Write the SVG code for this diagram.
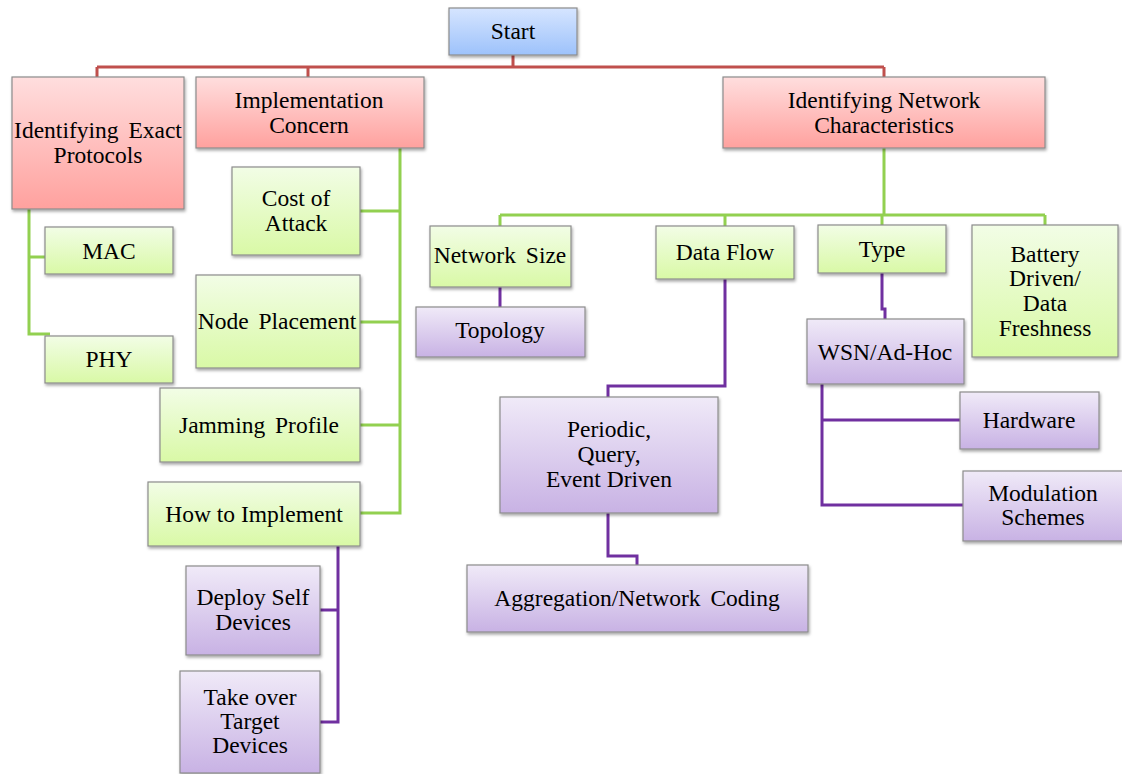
<svg xmlns="http://www.w3.org/2000/svg" width="1122" height="774" viewBox="0 0 1122 774">
  <defs>
    <linearGradient id="gBlue" x1="0" y1="0" x2="0" y2="1">
      <stop offset="0" stop-color="#D6E5FF"/>
      <stop offset="1" stop-color="#9DC2FB"/>
    </linearGradient>
    <linearGradient id="gRed" x1="0" y1="0" x2="0" y2="1">
      <stop offset="0" stop-color="#FFDEDE"/>
      <stop offset="1" stop-color="#FFA19E"/>
    </linearGradient>
    <linearGradient id="gGreen" x1="0" y1="0" x2="0" y2="1">
      <stop offset="0" stop-color="#F2FDE6"/>
      <stop offset="1" stop-color="#D9F9A6"/>
    </linearGradient>
    <linearGradient id="gPurple" x1="0" y1="0" x2="0" y2="1">
      <stop offset="0" stop-color="#F0EAF8"/>
      <stop offset="1" stop-color="#C8B2E4"/>
    </linearGradient>
    <filter id="shadow" x="-10%" y="-10%" width="120%" height="130%">
      <feDropShadow dx="1" dy="2" stdDeviation="1.5" flood-color="#000" flood-opacity="0.35"/>
    </filter>
  </defs>
  <style>
    .box { stroke: #8C8C8C; stroke-width: 1.2; filter: url(#shadow); }
    .blue { fill: url(#gBlue); }
    .red { fill: url(#gRed); }
    .green { fill: url(#gGreen); }
    .purple { fill: url(#gPurple); }
    text { font-family: "Liberation Serif", "Times New Roman", serif; font-size: 23.5px; fill: #000; text-anchor: middle; }
    .wide { word-spacing: 4px; }
    .c-red { fill: none; stroke: #C0504D; stroke-width: 3; }
    .c-green { fill: none; stroke: #92D050; stroke-width: 3; }
    .c-purple { fill: none; stroke: #7030A0; stroke-width: 3; }
  </style>
  <rect width="1122" height="774" fill="#FFFFFF"/>

  <!-- connectors -->
  <g id="connectors">
    <path class="c-red" d="M513 55 V67 M97 67 H884 M97 67 V78 M308 67 V78 M884 67 V78"/>
    <path class="c-green" d="M29 209 V334 H50 M29 257 H45"/>
    <path class="c-green" d="M400 148 V513 H360 M360 211 H400 M360 322 H400 M360 425 H400"/>
    <path class="c-green" d="M884 148 V215 M500 215 H1045 M500 215 V226 M725 215 V226 M882 215 V225 M1045 215 V225"/>
    <path class="c-purple" d="M500 287 V307"/>
    <path class="c-purple" d="M725 279 V386 H608 V397"/>
    <path class="c-purple" d="M608 513 V556 H637 V565"/>
    <path class="c-purple" d="M882 273 V309 H885 V319"/>
    <path class="c-purple" d="M822 384 V505 H963 M822 420 H960"/>
    <path class="c-purple" d="M338 546 V722 H320 M320 610 H338"/>
  </g>

  <!-- root -->
  <g id="start">
    <rect class="box blue" x="449" y="8" width="128" height="47"/>
    <text x="513" y="39">Start</text>
  </g>

  <!-- first level -->
  <g id="identifying-exact-protocols">
    <rect class="box red" x="12" y="77" width="172" height="132"/>
    <text x="98" y="138" class="wide">Identifying Exact</text>
    <text x="98" y="163">Protocols</text>
  </g>
  <g id="implementation-concern">
    <rect class="box red" x="196" y="77" width="228" height="71"/>
    <text x="309" y="108">Implementation</text>
    <text x="309" y="133">Concern</text>
  </g>
  <g id="identifying-network-characteristics">
    <rect class="box red" x="723" y="77" width="322" height="71"/>
    <text x="884" y="108">Identifying Network</text>
    <text x="884" y="133">Characteristics</text>
  </g>

  <!-- protocols branch -->
  <g id="mac">
    <rect class="box green" x="45" y="227" width="128" height="47"/>
    <text x="109" y="259">MAC</text>
  </g>
  <g id="phy">
    <rect class="box green" x="45" y="336" width="128" height="47"/>
    <text x="109" y="367">PHY</text>
  </g>

  <!-- implementation branch -->
  <g id="cost-of-attack">
    <rect class="box green" x="232" y="167" width="128" height="88"/>
    <text x="296" y="206">Cost of</text>
    <text x="296" y="231">Attack</text>
  </g>
  <g id="node-placement">
    <rect class="box green" x="196" y="275" width="164" height="93"/>
    <text x="277" y="329" class="wide">Node Placement</text>
  </g>
  <g id="jamming-profile">
    <rect class="box green" x="160" y="388" width="200" height="74"/>
    <text x="259" y="433" class="wide">Jamming Profile</text>
  </g>
  <g id="how-to-implement">
    <rect class="box green" x="148" y="482" width="212" height="64"/>
    <text x="254" y="522">How to Implement</text>
  </g>
  <g id="deploy-self-devices">
    <rect class="box purple" x="186" y="566" width="134" height="89"/>
    <text x="253" y="605">Deploy Self</text>
    <text x="253" y="630">Devices</text>
  </g>
  <g id="take-over-target-devices">
    <rect class="box purple" x="180" y="671" width="140" height="102"/>
    <text x="250" y="705">Take over</text>
    <text x="250" y="729">Target</text>
    <text x="250" y="753">Devices</text>
  </g>

  <!-- network characteristics branch -->
  <g id="network-size">
    <rect class="box green" x="430" y="226" width="141" height="61"/>
    <text x="500" y="263" class="wide">Network Size</text>
  </g>
  <g id="topology">
    <rect class="box purple" x="416" y="307" width="169" height="50"/>
    <text x="500" y="338">Topology</text>
  </g>
  <g id="data-flow">
    <rect class="box green" x="656" y="226" width="138" height="53"/>
    <text x="725" y="260">Data Flow</text>
  </g>
  <g id="periodic-query-event-driven">
    <rect class="box purple" x="500" y="397" width="218" height="116"/>
    <text x="609" y="437">Periodic,</text>
    <text x="609" y="462">Query,</text>
    <text x="609" y="487">Event Driven</text>
  </g>
  <g id="aggregation-network-coding">
    <rect class="box purple" x="467" y="565" width="341" height="67"/>
    <text x="637" y="606" class="wide">Aggregation/Network Coding</text>
  </g>
  <g id="type">
    <rect class="box green" x="818" y="225" width="128" height="48"/>
    <text x="882" y="257">Type</text>
  </g>
  <g id="wsn-ad-hoc">
    <rect class="box purple" x="807" y="319" width="157" height="65"/>
    <text x="885" y="360">WSN/Ad-Hoc</text>
  </g>
  <g id="hardware">
    <rect class="box purple" x="960" y="392" width="139" height="57"/>
    <text x="1029" y="428">Hardware</text>
  </g>
  <g id="modulation-schemes">
    <rect class="box purple" x="963" y="471" width="162" height="70"/>
    <text x="1043" y="501">Modulation</text>
    <text x="1043" y="525">Schemes</text>
  </g>
  <g id="battery-driven-data-freshness">
    <rect class="box green" x="972" y="225" width="146" height="132"/>
    <text x="1045" y="262">Battery</text>
    <text x="1045" y="286">Driven/</text>
    <text x="1045" y="311">Data</text>
    <text x="1045" y="336">Freshness</text>
  </g>
</svg>
